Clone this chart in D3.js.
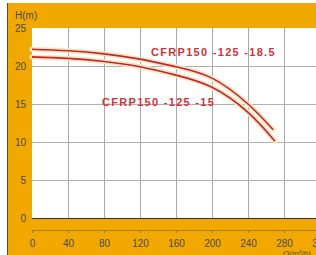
<!DOCTYPE html>
<html>
<head>
<meta charset="utf-8">
<script src="https://cdn.jsdelivr.net/npm/d3@7"></script>
<style>
  body { margin: 0; background: #fff; }
  svg { display: block; }
</style>
</head>
<body>
<div id="chart"></div>
<script>
// flow (m3/h) and head (m)
var qTicks = [0, 40, 80, 120, 160, 200, 240, 280, 320];
var hTicks = [0, 5, 10, 15, 20, 25];

var pump185 = [
  { q: 0, h: 22.2 }, { q: 40, h: 22.0 }, { q: 80, h: 21.6 }, { q: 120, h: 20.9 },
  { q: 160, h: 19.9 }, { q: 200, h: 18.4 }, { q: 240, h: 15.0 }, { q: 268, h: 11.6 }
];
var pump15 = [
  { q: 0, h: 21.2 }, { q: 40, h: 21.0 }, { q: 80, h: 20.6 }, { q: 120, h: 19.9 },
  { q: 160, h: 18.8 }, { q: 200, h: 17.2 }, { q: 240, h: 13.9 }, { q: 270, h: 10.1 }
];
var labels = ["CFRP150 -125 -18.5", "CFRP150 -125 -15"];

var W = 316, H = 255;
var svg = d3.select("#chart").append("svg")
  .attr("width", W).attr("height", H);

// orange panel
svg.append("rect").attr("x", 8).attr("y", 3).attr("width", W - 8).attr("height", H - 3)
  .attr("fill", "#f1a800");
svg.append("line").attr("x1", 7.5).attr("x2", 7.5).attr("y1", 3).attr("y2", H)
  .attr("stroke", "#5b4a30").attr("stroke-width", 1);

var x = d3.scaleLinear().domain([0, 320]).range([32, 320]);
var y = d3.scaleLinear().domain([0, 25]).range([218, 28]);

// plot area
svg.append("rect").attr("x", x(0)).attr("y", y(25))
  .attr("width", W - x(0)).attr("height", y(0) - y(25)).attr("fill", "#fff");

// grid
svg.append("g").selectAll("line").data(qTicks.slice(1)).join("line")
  .attr("x1", d => x(d) + 0.5).attr("x2", d => x(d) + 0.5)
  .attr("y1", y(25)).attr("y2", y(0))
  .attr("stroke", "#a8a8a8").attr("stroke-width", 1);
svg.append("g").selectAll("line").data(hTicks.slice(1, -1)).join("line")
  .attr("x1", x(0)).attr("x2", W)
  .attr("y1", d => Math.round(y(d)) + 0.5).attr("y2", d => Math.round(y(d)) + 0.5)
  .attr("stroke", "#b0b0b0").attr("stroke-width", 1);
svg.append("line").attr("x1", x(0)).attr("x2", W)
  .attr("y1", y(0) + 0.5).attr("y2", y(0) + 0.5)
  .attr("stroke", "#3a3020").attr("stroke-width", 1.2);

// y labels
svg.append("g").selectAll("text").data(hTicks).join("text")
  .attr("x", 26).attr("y", d => y(d) + 3.5)
  .attr("text-anchor", "end")
  .style("font-family", "Liberation Sans, Arial, sans-serif")
  .style("font-size", "10px").style("fill", "#4a4a4a")
  .text(d => d);

// x axis below the plot
var xAxis = svg.append("g")
  .attr("transform", "translate(0,230)")
  .call(d3.axisBottom(x).tickValues(qTicks).tickSize(3).tickPadding(7));
xAxis.select(".domain").attr("stroke", "#a87a10");
xAxis.selectAll(".tick line").attr("stroke", "#a87a10");
xAxis.selectAll("text")
  .style("font-family", "Liberation Sans, Arial, sans-serif")
  .style("font-size", "10px").style("fill", "#4a4a4a");

svg.append("text").attr("x", 15).attr("y", 19)
  .style("font-family", "Liberation Sans, Arial, sans-serif")
  .style("font-size", "10px").style("fill", "#4a4a4a")
  .text("H(m)");
svg.append("text").attr("x", 283).attr("y", 256)
  .style("font-family", "Liberation Sans, Arial, sans-serif")
  .style("font-size", "8px").style("font-style", "italic").style("fill", "#4a4a4a")
  .text("Q(m³/h)");

// curves
var line = d3.line().x(d => x(d.q)).y(d => y(d.h)).curve(d3.curveNatural);
[pump185, pump15].forEach(function (data) {
  svg.append("path").datum(data).attr("d", line)
    .attr("fill", "none").attr("stroke", "#fbe6c4").attr("stroke-width", 5)
    .attr("stroke-linecap", "round");
});
[pump185, pump15].forEach(function (data) {
  svg.append("path").datum(data).attr("d", line)
    .attr("fill", "none").attr("stroke", "#c4262b").attr("stroke-width", 1.6);
});

// curve names
svg.append("text").attr("x", 151).attr("y", 56)
  .style("font-family", "Liberation Sans, Arial, sans-serif")
  .style("font-size", "11px").style("font-weight", "bold")
  .style("letter-spacing", "1.3px").style("fill", "#d0343a")
  .text(labels[0]);
svg.append("text").attr("x", 102).attr("y", 106)
  .style("font-family", "Liberation Sans, Arial, sans-serif")
  .style("font-size", "11px").style("font-weight", "bold")
  .style("letter-spacing", "1.3px").style("fill", "#d0343a")
  .text(labels[1]);
</script>
</body>
</html>
